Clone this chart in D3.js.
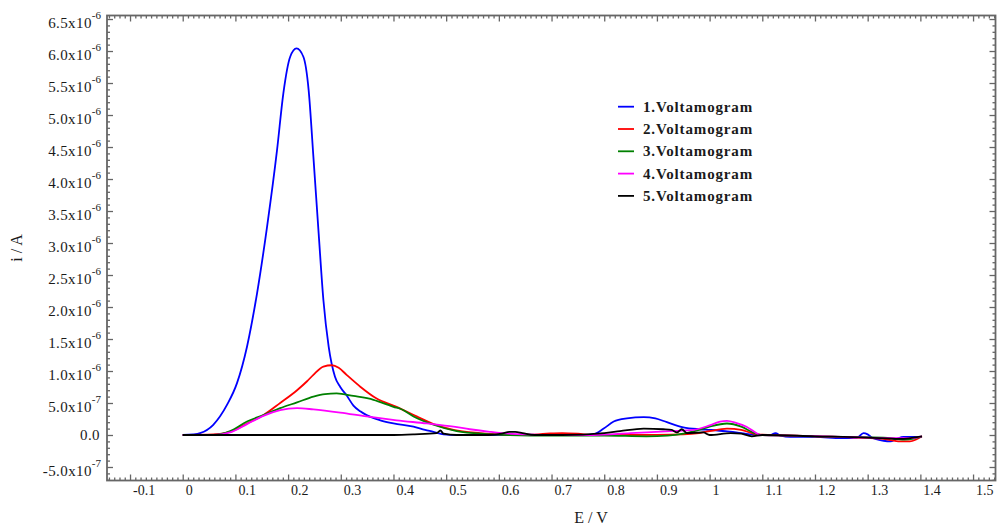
<!DOCTYPE html>
<html>
<head>
<meta charset="utf-8">
<script src="https://cdn.jsdelivr.net/npm/d3@7"></script>
<style>
  html, body { margin: 0; padding: 0; background: #fff; }
  svg { display: block; }
  text { font-family: "Liberation Serif", "Times New Roman", serif; fill: #1a1a1a; }
</style>
</head>
<body>
<svg id="chart" width="998" height="531"></svg>
<script>
// Potential (V) and current (µA) for each voltammogram
const seriesNames = ["1.Voltamogram", "2.Voltamogram", "3.Voltamogram", "4.Voltamogram", "5.Voltamogram"];
const seriesColors = ["#0000ff", "#ff0000", "#008000", "#ff00ff", "#000000"];

const blueE = [0, 0.02, 0.033, 0.058, 0.084, 0.103, 0.122, 0.141, 0.16, 0.179, 0.191, 0.204, 0.216, 0.229, 0.239, 0.248, 0.258, 0.267, 0.277, 0.289, 0.299, 0.311, 0.324, 0.337, 0.349, 0.375, 0.4, 0.438, 0.46, 0.476, 0.495, 0.52, 0.6, 0.7, 0.76, 0.78, 0.799, 0.818, 0.843, 0.875, 0.897, 0.919, 0.95, 0.982, 1.0, 1.03, 1.06, 1.09, 1.115, 1.125, 1.135, 1.153, 1.2, 1.25, 1.28, 1.292, 1.3, 1.308, 1.33, 1.343, 1.355, 1.368, 1.403];
const blueI = [0, 0.01, 0.03, 0.16, 0.47, 0.81, 1.38, 2.21, 3.25, 4.45, 5.34, 5.91, 6.04, 5.91, 5.39, 4.35, 3.15, 2.11, 1.38, 0.91, 0.75, 0.62, 0.46, 0.37, 0.31, 0.23, 0.18, 0.13, 0.08, 0.05, 0.01, 0, 0, 0, 0, 0.01, 0.1, 0.21, 0.26, 0.28, 0.26, 0.2, 0.12, 0.09, 0.08, 0.06, 0.03, 0, 0, 0.03, -0.01, -0.03, -0.03, -0.05, -0.04, 0.03, 0.01, -0.04, -0.09, -0.1, -0.06, -0.03, -0.03];

const redE = [0, 0.058, 0.09, 0.122, 0.153, 0.185, 0.217, 0.236, 0.248, 0.267, 0.283, 0.296, 0.311, 0.337, 0.368, 0.406, 0.444, 0.476, 0.514, 0.564, 0.6, 0.65, 0.69, 0.72, 0.75, 0.78, 0.85, 0.95, 0.98, 1.0, 1.033, 1.06, 1.09, 1.12, 1.2, 1.28, 1.33, 1.362, 1.38, 1.392, 1.403];
const redI = [0, 0.01, 0.05, 0.18, 0.31, 0.5, 0.7, 0.84, 0.94, 1.07, 1.09, 1.05, 0.94, 0.755, 0.57, 0.44, 0.29, 0.17, 0.08, 0.03, 0.01, 0, 0.02, 0.03, 0.02, 0, 0, 0.01, 0.03, 0.06, 0.1, 0.08, 0.01, 0, -0.02, -0.04, -0.06, -0.1, -0.1, -0.07, -0.02];

const greenE = [0, 0.058, 0.09, 0.122, 0.153, 0.185, 0.217, 0.248, 0.27, 0.292, 0.324, 0.362, 0.39, 0.4, 0.413, 0.438, 0.476, 0.52, 0.577, 0.62, 0.7, 0.8, 0.88, 0.92, 0.95, 0.98, 1.0, 1.033, 1.06, 1.08, 1.096, 1.15, 1.25, 1.33, 1.37, 1.385, 1.395, 1.403];
const greenI = [0, 0, 0.06, 0.21, 0.31, 0.42, 0.51, 0.6, 0.64, 0.65, 0.61, 0.55, 0.47, 0.44, 0.41, 0.29, 0.16, 0.06, 0.015, 0, -0.01, -0.01, -0.02, -0.01, 0.02, 0.08, 0.13, 0.18, 0.13, 0.05, 0, -0.01, -0.03, -0.04, -0.07, -0.06, -0.04, -0.02];

const magentaE = [0, 0.058, 0.09, 0.122, 0.153, 0.185, 0.217, 0.248, 0.299, 0.349, 0.406, 0.463, 0.514, 0.545, 0.583, 0.62, 0.65, 0.7, 0.78, 0.85, 0.925, 0.97, 1.0, 1.02, 1.033, 1.05, 1.07, 1.085, 1.096, 1.15, 1.25, 1.3, 1.35, 1.38, 1.403];
const magentaI = [0, 0, 0.04, 0.17, 0.3, 0.39, 0.42, 0.4, 0.35, 0.29, 0.23, 0.18, 0.13, 0.09, 0.05, 0.02, 0.01, 0, 0, 0.03, 0.06, 0.08, 0.15, 0.21, 0.22, 0.19, 0.13, 0.05, 0, -0.01, -0.03, -0.04, -0.05, -0.05, -0.02];

const blackE = [0, 0.1, 0.2, 0.3, 0.4, 0.44, 0.482, 0.489, 0.495, 0.52, 0.58, 0.605, 0.62, 0.631, 0.645, 0.668, 0.72, 0.8, 0.83, 0.875, 0.912, 0.928, 0.938, 0.947, 0.957, 0.988, 1.0, 1.04, 1.06, 1.08, 1.1, 1.2, 1.3, 1.36, 1.403];
const blackI = [0, 0, 0, 0, 0, 0.01, 0.03, 0.07, 0.02, 0, 0, 0.02, 0.05, 0.05, 0.03, 0, 0, 0.03, 0.06, 0.1, 0.09, 0.08, 0.04, 0.09, 0.03, 0.04, 0, 0.03, 0.02, -0.02, 0, -0.02, -0.04, -0.06, -0.02];

const seriesE = [blueE, redE, greenE, magentaE, blackE];
const seriesI = [blueI, redI, greenI, magentaI, blackI];

// Axis ticks and their labels
const xTicks = [-0.1, 0, 0.1, 0.2, 0.3, 0.4, 0.5, 0.6, 0.7, 0.8, 0.9, 1.0, 1.1, 1.2, 1.3, 1.4, 1.5];
const xTickLabels = ["-0.1", "0", "0.1", "0.2", "0.3", "0.4", "0.5", "0.6", "0.7", "0.8", "0.9", "1", "1.1", "1.2", "1.3", "1.4", "1.5"];
const yTicks = [6.5e-6, 6.0e-6, 5.5e-6, 5.0e-6, 4.5e-6, 4.0e-6, 3.5e-6, 3.0e-6, 2.5e-6, 2.0e-6, 1.5e-6, 1.0e-6, 5.0e-7, 0, -5.0e-7];
const yTickMantissa = ["6.5", "6.0", "5.5", "5.0", "4.5", "4.0", "3.5", "3.0", "2.5", "2.0", "1.5", "1.0", "5.0", "0.0", "-5.0"];
const yTickExponent = ["-6", "-6", "-6", "-6", "-6", "-6", "-6", "-6", "-6", "-6", "-6", "-6", "-7", "", "-7"];

const W = 998, H = 531;
const plot = { left: 107, right: 995.5, top: 15.5, bottom: 480.5 };

const svg = d3.select("#chart");
svg.append("rect").attr("width", W).attr("height", H).attr("fill", "#fff");

const x = d3.scaleLinear().domain([-0.1437, 1.5426]).range([plot.left, plot.right]);
const y = d3.scaleLinear().domain([-0.711e-6, 6.555e-6]).range([plot.bottom, plot.top]);

const axisColor = "#666";
const xMinor = d3.range(-14, 155).map(k => k / 100).filter(v => Math.abs(v * 10 - Math.round(v * 10)) > 1e-6);
const yMinor = d3.range(-7, 66).map(k => k * 1e-7).filter(v => Math.abs(v * 2e6 - Math.round(v * 2e6)) > 1e-6);

function styleAxis(g) {
  g.select(".domain").remove();
  g.selectAll(".tick line").attr("stroke", axisColor).attr("stroke-width", 1.3);
}

// Bottom axis: inward ticks, labels set just right of each tick
svg.append("g").attr("transform", `translate(0,${plot.bottom})`)
  .call(d3.axisBottom(x).tickValues(xMinor).tickSize(-3).tickFormat(""))
  .call(styleAxis);
const xAxisG = svg.append("g").attr("transform", `translate(0,${plot.bottom})`)
  .call(d3.axisBottom(x).tickValues(xTicks).tickSize(-6)
    .tickFormat((d, i) => xTickLabels[i]))
  .call(styleAxis);
xAxisG.selectAll(".tick text")
  .attr("font-size", "14px")
  .attr("font-family", "Liberation Serif, serif")
  .attr("fill", "#1a1a1a")
  .attr("text-anchor", "start")
  .attr("x", 2.5)
  .attr("y", 14.5)
  .attr("dy", null);

// Top axis
svg.append("g").attr("transform", `translate(0,${plot.top})`)
  .call(d3.axisTop(x).tickValues(xMinor).tickSize(-3).tickFormat(""))
  .call(styleAxis);
svg.append("g").attr("transform", `translate(0,${plot.top})`)
  .call(d3.axisTop(x).tickValues(xTicks).tickSize(-6).tickFormat(""))
  .call(styleAxis);

// Left axis
svg.append("g").attr("transform", `translate(${plot.left},0)`)
  .call(d3.axisLeft(y).tickValues(yMinor).tickSize(-3).tickFormat(""))
  .call(styleAxis);
const yAxisG = svg.append("g").attr("transform", `translate(${plot.left},0)`)
  .call(d3.axisLeft(y).tickValues(yTicks).tickSize(-6).tickFormat(""))
  .call(styleAxis);
yAxisG.selectAll(".tick text").remove();
yAxisG.selectAll(".tick").each(function (d, i) {
  const t = d3.select(this).append("text")
    .attr("text-anchor", "end")
    .attr("x", -6)
    .attr("font-size", "15px")
    .attr("letter-spacing", "0.4px")
    .attr("fill", "#1a1a1a");
  if (yTickExponent[i]) {
    t.attr("y", 8.3);
    t.append("tspan").text(yTickMantissa[i] + "x10");
    t.append("tspan").attr("font-size", "11px").attr("letter-spacing", "0px").attr("dy", -9).text(yTickExponent[i]);
  } else {
    t.attr("y", 5).attr("x", -7).text(yTickMantissa[i]);
  }
});

// Right axis
svg.append("g").attr("transform", `translate(${plot.right},0)`)
  .call(d3.axisRight(y).tickValues(yMinor).tickSize(-3).tickFormat(""))
  .call(styleAxis);
svg.append("g").attr("transform", `translate(${plot.right},0)`)
  .call(d3.axisRight(y).tickValues(yTicks).tickSize(-6).tickFormat(""))
  .call(styleAxis);

// Frame
svg.append("rect")
  .attr("x", plot.left).attr("y", plot.top)
  .attr("width", plot.right - plot.left).attr("height", plot.bottom - plot.top)
  .attr("fill", "none").attr("stroke", axisColor).attr("stroke-width", 1.8);

// Curves
const line = d3.line().x(d => x(d[0])).y(d => y(d[1] * 1e-6)).curve(d3.curveMonotoneX);
seriesE.forEach((E, s) => {
  const pts = E.map((e, k) => [e, seriesI[s][k]]);
  svg.append("path")
    .datum(pts)
    .attr("d", line)
    .attr("fill", "none")
    .attr("stroke", seriesColors[s])
    .attr("stroke-width", 1.8)
    .attr("stroke-linejoin", "round");
});

// Legend
const legend = svg.append("g").attr("transform", "translate(618,106.7)");
seriesNames.forEach((name, s) => {
  const row = legend.append("g").attr("transform", `translate(0,${s * 22.3})`);
  row.append("line").attr("x1", 0).attr("x2", 16).attr("y1", 0).attr("y2", 0)
    .attr("stroke", seriesColors[s]).attr("stroke-width", 1.8);
  row.append("text").attr("x", 25).attr("y", 5)
    .attr("font-size", "15px").attr("font-weight", "bold")
    .attr("letter-spacing", "0.85px")
    .text(name);
});

// Axis titles
svg.append("text")
  .attr("x", 591).attr("y", 523)
  .attr("text-anchor", "middle")
  .attr("font-size", "16px")
  .text("E / V");
svg.append("text")
  .attr("transform", "translate(22,248) rotate(-90)")
  .attr("text-anchor", "middle")
  .attr("font-size", "16px")
  .text("i / A");
</script>
</body>
</html>
